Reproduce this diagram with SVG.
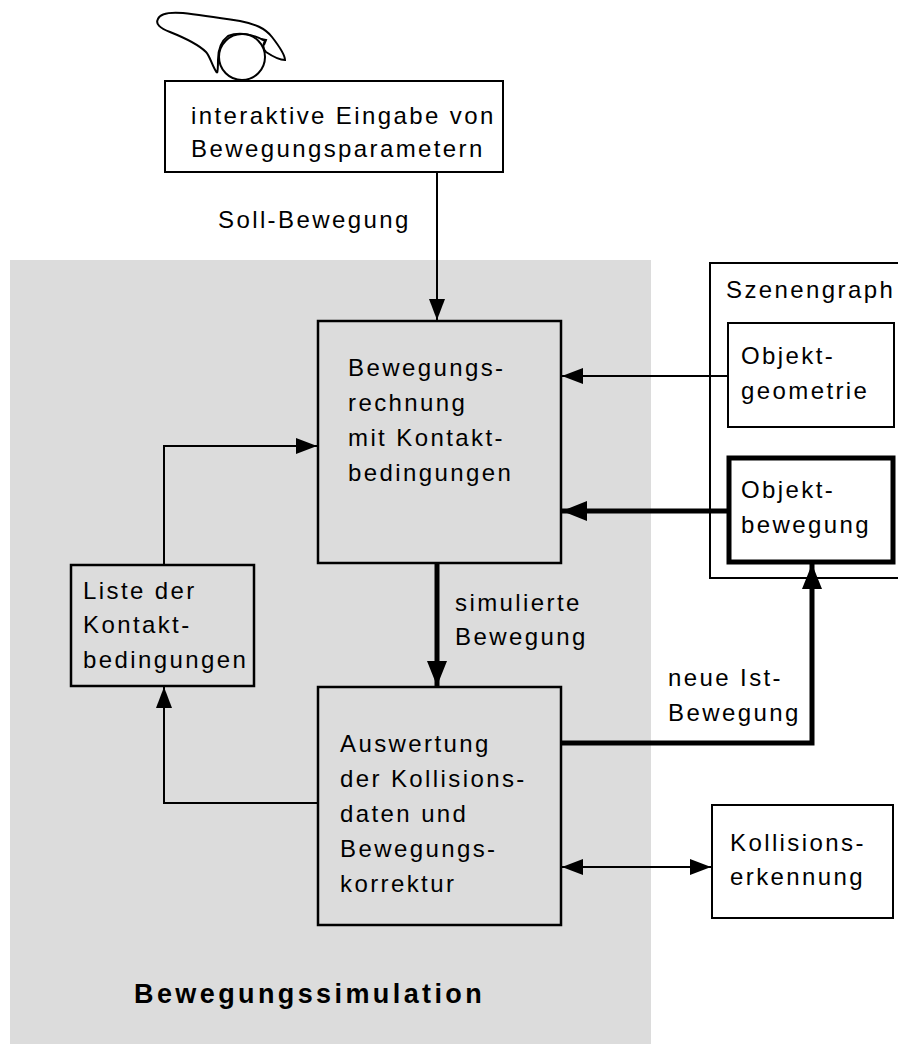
<svg xmlns="http://www.w3.org/2000/svg" width="898" height="1044" viewBox="0 0 898 1044">
  <style>
    .box { fill: #ffffff; stroke: #000; stroke-width: 2; }
    .gbox { fill: #dcdcdc; stroke: #000; stroke-width: 2.5; }
    .thickbox { fill: #ffffff; stroke: #000; stroke-width: 5; }
    .t { font-family: "Liberation Sans", Arial, sans-serif; font-size: 24px; letter-spacing: 2.4px; fill: #000; }
    .title { font-family: "Liberation Sans", Arial, sans-serif; font-size: 27px; font-weight: bold; letter-spacing: 3.4px; fill: #000; }
    .thin { fill: none; stroke: #000; stroke-width: 2; }
    .thick { fill: none; stroke: #000; stroke-width: 5; }
  </style>
  <defs>
    <marker id="ah" markerUnits="userSpaceOnUse" markerWidth="22" markerHeight="16" refX="21" refY="8" orient="auto-start-reverse">
      <path d="M0,0 L21,8 L0,16 Z" fill="#000"/>
    </marker>
    <marker id="ahb" markerUnits="userSpaceOnUse" markerWidth="26" markerHeight="20" refX="25" refY="10" orient="auto-start-reverse">
      <path d="M0,0 L25,10 L0,20 Z" fill="#000"/>
    </marker>
  </defs>

  <!-- simulation area -->
  <rect id="simulation-area" x="10" y="260" width="641" height="790" fill="#dcdcdc"/>

  <!-- hand on the input ball -->
  <g id="hand-input" fill="none" stroke="#000" stroke-width="2">
    <path d="M217,73 C212,66 210,56 206,52 C198,44 185,38 170,32 C160,28 155,24 158,19 C160,13 170,12 183,13 C200,15 220,18 240,21 C255,24 265,28 272,37 C279,46 285,56 285,60 C280,60 272,56 266,52 C263,49 262,46 265,41 C255,35 240,31 228,36 C220,42 218,50 218,60 C218,66 218,71 217,73"/>
    <path d="M261,39 L266,40 L264,45"/>
    <circle cx="242" cy="57" r="23"/>
  </g>

  <g id="input-box">
    <rect class="box" x="165" y="81" width="338" height="91"/>
    <text class="t" x="191" y="124">interaktive Eingabe von</text>
    <text class="t" x="191" y="157">Bewegungsparametern</text>
  </g>

  <g id="motion-calc">
    <rect class="gbox" x="318" y="321" width="243" height="242"/>
    <text class="t" x="348" y="376">Bewegungs-</text>
    <text class="t" x="348" y="411">rechnung</text>
    <text class="t" x="348" y="446">mit Kontakt-</text>
    <text class="t" x="348" y="481">bedingungen</text>
  </g>

  <g id="contact-list">
    <rect class="gbox" x="71" y="565" width="183" height="121"/>
    <text class="t" x="83" y="599">Liste der</text>
    <text class="t" x="83" y="633">Kontakt-</text>
    <text class="t" x="83" y="668">bedingungen</text>
  </g>

  <g id="evaluation">
    <rect class="gbox" x="318" y="687" width="243" height="238"/>
    <text class="t" x="340" y="752">Auswertung</text>
    <text class="t" x="340" y="787">der Kollisions-</text>
    <text class="t" x="340" y="822">daten und</text>
    <text class="t" x="340" y="857">Bewegungs-</text>
    <text class="t" x="340" y="892">korrektur</text>
  </g>

  <g id="scene-graph">
    <rect class="box" x="710" y="263" width="200" height="315"/>
    <text class="t" x="726" y="298">Szenengraph</text>
  </g>

  <g id="object-geometry">
    <rect class="box" x="728" y="323" width="166" height="104"/>
    <text class="t" x="741" y="364">Objekt-</text>
    <text class="t" x="741" y="399">geometrie</text>
  </g>

  <g id="object-motion">
    <rect class="thickbox" x="729" y="458" width="164" height="104"/>
    <text class="t" x="741" y="498">Objekt-</text>
    <text class="t" x="741" y="533">bewegung</text>
  </g>

  <g id="collision-detection">
    <rect class="box" x="712" y="805" width="181" height="113"/>
    <text class="t" x="730" y="851">Kollisions-</text>
    <text class="t" x="730" y="885">erkennung</text>
  </g>

  <!-- connectors -->
  <g id="connectors">
    <path class="thin" d="M437,172 V320" marker-end="url(#ah)"/>
    <path class="thin" d="M728,376 H562" marker-end="url(#ah)"/>
    <path class="thick" d="M727,511 H562" marker-end="url(#ahb)"/>
    <path class="thin" d="M164,565 V446 H317" marker-end="url(#ah)"/>
    <path class="thin" d="M318,803 H164 V687" marker-end="url(#ah)"/>
    <path class="thick" d="M437,563 V686" marker-end="url(#ahb)"/>
    <path class="thick" d="M561,743 H812 V564" marker-end="url(#ahb)"/>
    <path class="thin" d="M562,867 H711" marker-start="url(#ah)" marker-end="url(#ah)"/>
  </g>

  <g id="labels">
    <text class="t" x="218" y="228">Soll-Bewegung</text>
    <text class="t" x="455" y="611">simulierte</text>
    <text class="t" x="455" y="645">Bewegung</text>
    <text class="t" x="668" y="686">neue Ist-</text>
    <text class="t" x="668" y="721">Bewegung</text>
    <text class="title" x="134" y="1003">Bewegungssimulation</text>
  </g>
</svg>
